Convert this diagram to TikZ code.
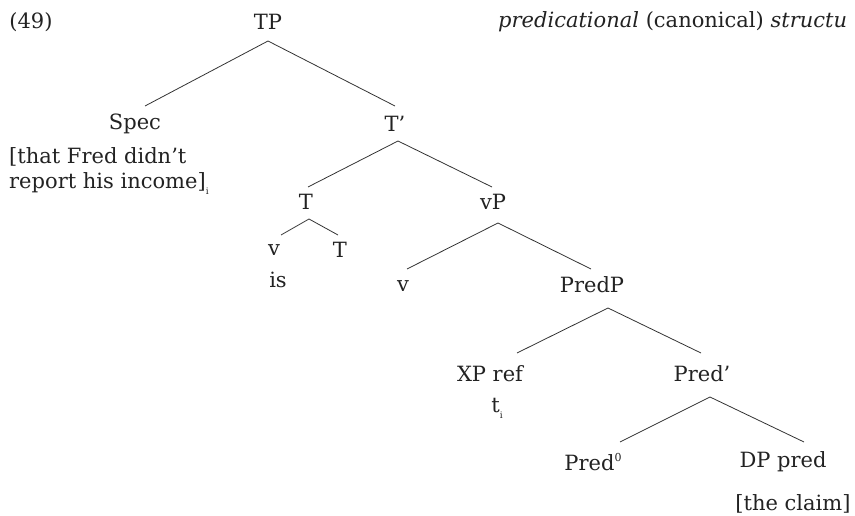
\documentclass[tikz,border=0pt]{standalone}
\usepackage{fontspec}
\setmainfont{DejaVu Serif}
\definecolor{ink}{HTML}{222222}
\definecolor{edge}{HTML}{333333}
\newcommand{\subi}{\raisebox{-0.55ex}{\fontsize{9}{9}\selectfont i}}
\newcommand{\supzero}{\raisebox{0.9ex}{\fontsize{11}{11}\selectfont 0}}
\begin{document}
\begin{tikzpicture}[x=1pt,y=-1pt,
  lab/.style={inner sep=0pt,text=ink,font=\fontsize{21}{25}\selectfont},
  br/.style={draw=edge,line width=0.8pt}]
\useasboundingbox (0,0) rectangle (855,516);
\node[lab] (num) at (31,22) {(49)};
\node[lab,anchor=west] (title) at (498,22) {\textit{predicational} (canonical) \textit{structu}};
\node[lab] (TP) at (268,22) {TP};
\coordinate (TPb) at (268,41);
\node[lab] (Spec) at (135,124) {Spec};
\coordinate (Spect) at (145,106);
\node[lab,anchor=west,align=left] (SpecTxt) at (9,171) {[that Fred didn’t\\report his income]\subi};
\node[lab] (Tbar) at (395,124) {T’};
\coordinate (Tbart) at (395,106);
\coordinate (Tbarb) at (398,141);
\node[lab] (T) at (306,202) {T};
\coordinate (Tt) at (308,187);
\coordinate (Tb) at (309,219);
\node[lab] (v1) at (274,250) {v};
\coordinate (v1t) at (281,235);
\node[lab] (T2) at (340,250) {T};
\coordinate (T2t) at (338,235);
\node[lab] (is) at (278,280) {is};
\node[lab] (vP) at (493,202) {vP};
\coordinate (vPt) at (492,187);
\coordinate (vPb) at (498,223);
\node[lab] (v2) at (403,286) {v};
\coordinate (v2t) at (407,269);
\node[lab] (PredP) at (592,285) {PredP};
\coordinate (PredPt) at (591,269);
\coordinate (PredPb) at (608,308);
\node[lab] (XP) at (490,374) {XP ref};
\coordinate (XPt) at (517,353);
\node[lab] (ti) at (497,408) {t\subi};
\node[lab] (Predbar) at (702,374) {Pred’};
\coordinate (Predbart) at (701,353);
\coordinate (Predbarb) at (710,397);
\node[lab] (Pred0) at (593,462) {Pred\supzero};
\coordinate (Pred0t) at (620,442);
\node[lab] (DP) at (783,462) {DP pred};
\coordinate (DPt) at (804,442);
\node[lab] (claim) at (793,504) {[the claim]};
\draw[br] (Spect) -- (TPb) -- (Tbart);
\draw[br] (Tt) -- (Tbarb) -- (vPt);
\draw[br] (v1t) -- (Tb) -- (T2t);
\draw[br] (v2t) -- (vPb) -- (PredPt);
\draw[br] (XPt) -- (PredPb) -- (Predbart);
\draw[br] (Pred0t) -- (Predbarb) -- (DPt);
\end{tikzpicture}
\end{document}
